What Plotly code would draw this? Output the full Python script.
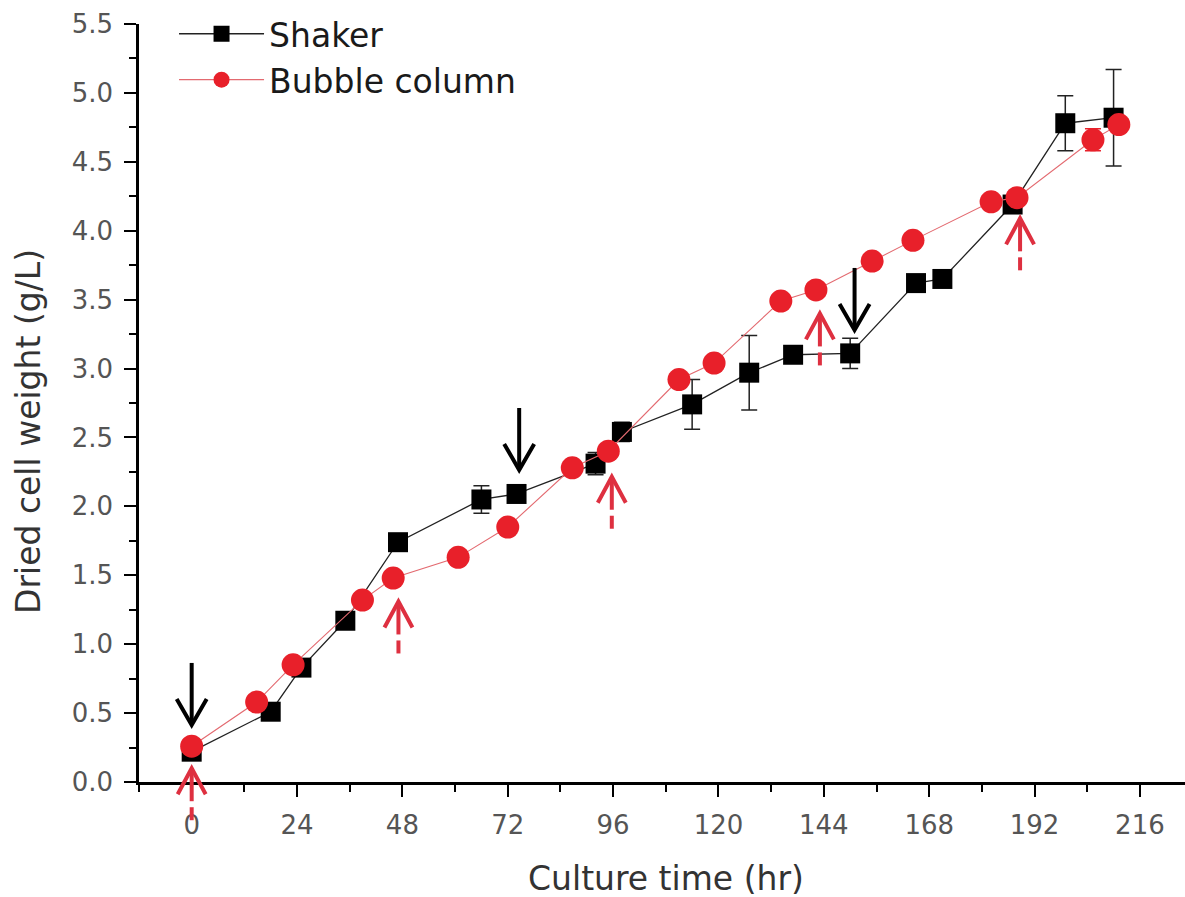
import plotly.graph_objects as go

# ---------------- data ----------------
shaker_t = [0, 18, 25, 35, 47, 66, 74, 92, 98, 114, 127, 137, 150, 165, 171, 187, 199, 210]
shaker_v = [0.22, 0.51, 0.83, 1.17, 1.74, 2.05, 2.09, 2.31, 2.54, 2.74, 2.97, 3.10, 3.11, 3.62, 3.65, 4.19, 4.78, 4.82]
shaker_err = [0.03, 0.02, 0.03, 0.02, 0.03, 0.10, 0.03, 0.08, 0.07, 0.18, 0.27, 0.03, 0.11, 0.04, 0.03, 0.04, 0.20, 0.35]

bubble_t = [0, 14.8, 23.1, 38.9, 45.9, 60.7, 72.0, 86.7, 94.9, 111.0, 119.0, 134.2, 142.2, 155.0, 164.3, 182.1, 188.0, 205.3, 211.2]
bubble_v = [0.26, 0.58, 0.85, 1.32, 1.48, 1.63, 1.85, 2.28, 2.40, 2.92, 3.04, 3.49, 3.57, 3.78, 3.93, 4.21, 4.24, 4.66, 4.77]
bubble_err = [0.02, 0.02, 0.02, 0.02, 0.02, 0.02, 0.02, 0.02, 0.02, 0.02, 0.02, 0.02, 0.02, 0.02, 0.02, 0.02, 0.03, 0.08, 0.05]

# black solid arrows (pointing down): x position and tip value
black_arrow_t = [0, 74.6, 151]
black_arrow_tip = [0.414, 2.264, 3.28]
# red dashed arrows (pointing up): x position and tip value
red_arrow_t = [0, 47.1, 95.7, 143.1, 188.7]
red_arrow_tip = [0.10, 1.31, 2.215, 3.40, 4.09]

x_ticks = [0, 24, 48, 72, 96, 120, 144, 168, 192, 216]
y_ticks = [0.0, 0.5, 1.0, 1.5, 2.0, 2.5, 3.0, 3.5, 4.0, 4.5, 5.0, 5.5]

# ---------------- layout geometry ----------------
W, H = 1185, 897
ML, MR, MT, MB = 139, 0, 24, 115
PW, PH = W - ML - MR, H - MT - MB
XMIN = -12
XMAX = XMIN + PW / 4.39
YMIN, YMAX = 0, 5.5

FONT = "DejaVu Sans"
RED = "#e8202a"
RED_LINE = "#e36a70"
ARROW_RED = "#de3040"


def px(t):
    return (t - XMIN) / (XMAX - XMIN)


def py(v):
    return (v - YMIN) / (YMAX - YMIN)


fig = go.Figure()

fig.add_trace(go.Scatter(
    x=shaker_t, y=shaker_v, name="Shaker", mode="lines+markers",
    line=dict(color="#222222", width=1.3),
    marker=dict(symbol="square", size=20, color="#000000"),
    error_y=dict(type="data", array=shaker_err, color="#222222", thickness=1.5, width=8),
    cliponaxis=False,
))
fig.add_trace(go.Scatter(
    x=bubble_t, y=bubble_v, name="Bubble column", mode="lines+markers",
    line=dict(color=RED_LINE, width=1.1),
    marker=dict(symbol="circle", size=23, color=RED),
    error_y=dict(type="data", array=bubble_err, color=RED, thickness=1.5, width=8),
    cliponaxis=False,
))

shapes = []
dxp = 1.0 / PW   # one pixel in paper x
dyp = 1.0 / PH   # one pixel in paper y

# black solid arrows
for t, tip in zip(black_arrow_t, black_arrow_tip):
    x0, y0 = px(t), py(tip)
    shapes.append(dict(type="line", xref="paper", yref="paper",
                       x0=x0, y0=y0 + 1 * dyp, x1=x0, y1=y0 + 62 * dyp,
                       line=dict(color="#000000", width=4)))
    shapes.append(dict(type="path", xref="paper", yref="paper",
                       path=f"M {x0 - 15 * dxp},{y0 + 26 * dyp} L {x0},{y0} L {x0 + 15 * dxp},{y0 + 26 * dyp}",
                       line=dict(color="#000000", width=4)))

# red dashed arrows
for t, tip in zip(red_arrow_t, red_arrow_tip):
    x0, y0 = px(t), py(tip)
    shapes.append(dict(type="line", xref="paper", yref="paper",
                       x0=x0, y0=y0 - 1 * dyp, x1=x0, y1=y0 - 33 * dyp,
                       line=dict(color=ARROW_RED, width=4)))
    shapes.append(dict(type="line", xref="paper", yref="paper",
                       x0=x0, y0=y0 - 39 * dyp, x1=x0, y1=y0 - 52 * dyp,
                       line=dict(color=ARROW_RED, width=4)))
    shapes.append(dict(type="path", xref="paper", yref="paper",
                       path=f"M {x0 - 14 * dxp},{y0 - 26 * dyp} L {x0},{y0} L {x0 + 14 * dxp},{y0 - 26 * dyp}",
                       line=dict(color=ARROW_RED, width=4)))

axis_common = dict(
    showgrid=False, zeroline=False, showline=True, linecolor="#000000", linewidth=2.5,
    ticks="outside", tickwidth=2, tickcolor="#000000", ticklen=12,
    tickfont=dict(family=FONT, size=26, color="#555555"),
)

fig.update_layout(
    width=W, height=H,
    margin=dict(l=ML, r=MR, t=MT, b=MB),
    paper_bgcolor="white", plot_bgcolor="white",
    font=dict(family=FONT),
    xaxis=dict(range=[XMIN, XMAX], tickmode="array", tickvals=x_ticks,
               ticktext=[str(v) for v in x_ticks], ticklabelstandoff=6,
               minor=dict(dtick=12, tick0=0, ticks="outside", ticklen=7, tickwidth=2, tickcolor="#000000"),
               **axis_common),
    yaxis=dict(range=[YMIN, YMAX], tickmode="array", tickvals=y_ticks,
               ticktext=[f"{v:.1f}" for v in y_ticks], ticklabelstandoff=6,
               minor=dict(dtick=0.25, tick0=0, ticks="outside", ticklen=7, tickwidth=2, tickcolor="#000000"),
               **axis_common),
    showlegend=True,
    legend=dict(x=0.0335, y=1.024, xanchor="left", yanchor="top",
                bgcolor="rgba(0,0,0,0)", itemwidth=85,
                font=dict(family=FONT, size=33, color="#1a1a1a"),
                tracegroupgap=0),
    shapes=shapes,
    annotations=[
        dict(text="Culture time (hr)", xref="paper", yref="paper",
             x=(666 - ML) / PW, y=(782 - 878) / PH, xanchor="center", yanchor="middle",
             showarrow=False, font=dict(family=FONT, size=33, color="#333333")),
        dict(text="Dried cell weight (g/L)", xref="paper", yref="paper",
             x=(28 - ML) / PW, y=(782 - 432) / PH, xanchor="center", yanchor="middle",
             textangle=-90, showarrow=False, font=dict(family=FONT, size=33, color="#333333")),
    ],
)

fig.write_html("out.html")
